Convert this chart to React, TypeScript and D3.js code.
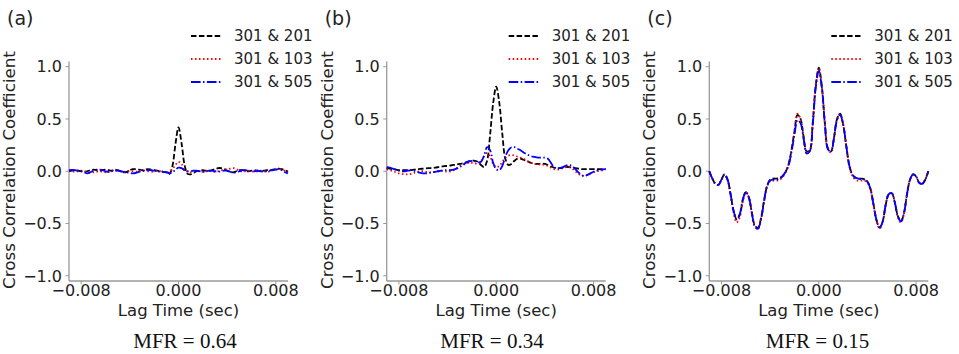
import React from "react";
import * as d3 from "d3";

// Lag grid in milliseconds
const LAGS_MS = [
  -9, -8.75, -8.5, -8.25, -8, -7.75, -7.5, -7.25, -7, -6.75, -6.5, -6.25,
  -6, -5.75, -5.5, -5.25, -5, -4.75, -4.5, -4.25, -4, -3.75, -3.5, -3.25,
  -3, -2.75, -2.5, -2.25, -2, -1.75, -1.5, -1.25, -1, -0.75, -0.5, -0.25,
  0, 0.25, 0.5, 0.75, 1, 1.25, 1.5, 1.75, 2, 2.25, 2.5, 2.75,
  3, 3.25, 3.5, 3.75, 4, 4.25, 4.5, 4.75, 5, 5.25, 5.5, 5.75,
  6, 6.25, 6.5, 6.75, 7, 7.25, 7.5, 7.75, 8, 8.25, 8.5, 8.75, 9,
];

const SERIES_NAMES = ["301 & 201", "301 & 103", "301 & 505"];
const PANEL_LABELS = ["(a)", "(b)", "(c)"];
const MFR_LABELS = ["MFR = 0.64", "MFR = 0.34", "MFR = 0.15"];
const X_TICKS = [-0.008, 0, 0.008];
const Y_TICKS = [-1, -0.5, 0, 0.5, 1];

// Panel (a)
const A_201 = [
  0.0, 0.005, 0.01, 0.005, 0.0, -0.005, 0.0, 0.01, 0.015, 0.01, 0.005, 0.01,
  0.015, 0.01, 0.005, 0.015, 0.01, 0.0, -0.01, -0.005, 0.01, 0.02, 0.02, 0.015,
  0.01, 0.015, 0.02, 0.015, 0.01, 0.005, 0.0, -0.005, -0.01, -0.025, 0.05, 0.26,
  0.42, 0.27, 0.06, -0.025, -0.03, -0.015, 0.0, 0.005, 0.01, 0.005, 0.0, 0.01,
  0.02, 0.03, 0.03, 0.02, 0.005, -0.005, -0.01, 0.0, 0.01, 0.01, 0.005, 0.0,
  0.005, 0.01, 0.005, 0.0, 0.005, 0.01, 0.01, 0.015, 0.02, 0.025, 0.02, 0.01, -0.005,
];
const A_103 = [
  0.005, 0.0, -0.005, 0.0, 0.005, 0.0, -0.01, -0.015, -0.01, -0.005, 0.0, -0.005,
  -0.01, -0.005, 0.005, 0.01, 0.005, 0.0, -0.005, 0.0, 0.005, 0.0, -0.005, 0.0,
  0.01, 0.005, 0.0, -0.005, 0.0, 0.005, 0.0, -0.005, -0.01, -0.005, 0.02, 0.06,
  0.09, 0.07, 0.02, -0.005, -0.01, 0.0, 0.005, 0.0, -0.005, 0.0, 0.005, 0.0,
  -0.005, 0.0, 0.01, 0.015, 0.02, 0.025, 0.03, 0.02, 0.005, -0.005, 0.0, 0.005,
  0.0, -0.005, 0.0, 0.005, 0.0, -0.005, 0.0, 0.01, 0.015, 0.02, 0.015, 0.005, 0.0,
];
const A_505 = [
  0.01, 0.012, 0.01, 0.005, 0.0, -0.01, -0.02, -0.01, 0.005, 0.015, 0.015, 0.01,
  0.0, -0.005, 0.0, 0.005, 0.005, 0.0, -0.005, -0.01, -0.015, -0.02, -0.015, -0.005,
  0.0, 0.005, 0.01, 0.01, 0.005, 0.0, -0.005, -0.005, -0.01, -0.02, -0.01, 0.015,
  0.035, 0.03, 0.01, 0.0, 0.0, 0.005, 0.005, 0.0, -0.005, 0.0, 0.005, 0.005,
  0.0, -0.005, 0.0, 0.005, 0.005, -0.005, -0.015, -0.01, 0.0, 0.01, 0.01, 0.005,
  0.0, 0.0, 0.005, 0.0, -0.005, 0.0, 0.005, 0.01, 0.015, 0.02, 0.01, -0.01, -0.02,
];

// Panel (b)
const B_201 = [
  0.03, 0.025, 0.02, 0.015, 0.01, 0.01, 0.01, 0.01, 0.012, 0.015, 0.02, 0.022,
  0.025, 0.028, 0.03, 0.032, 0.035, 0.04, 0.045, 0.05, 0.05, 0.055, 0.06, 0.065,
  0.07, 0.075, 0.085, 0.095, 0.1, 0.1, 0.09, 0.06, 0.04, 0.1, 0.35, 0.65,
  0.81, 0.66, 0.36, 0.12, 0.06, 0.07, 0.1, 0.12, 0.12, 0.11, 0.1, 0.085,
  0.075, 0.07, 0.07, 0.072, 0.07, 0.06, 0.045, 0.035, 0.03, 0.03, 0.035, 0.04,
  0.04, 0.035, 0.03, 0.025, 0.02, 0.02, 0.02, 0.02, 0.02, 0.02, 0.02, 0.02, 0.02,
];
const B_103 = [
  0.02, 0.01, 0.0, -0.01, -0.02, -0.025, -0.03, -0.03, -0.025, -0.015, -0.005, 0.0,
  0.0, -0.005, -0.01, -0.01, -0.005, 0.0, 0.005, 0.0, -0.005, 0.0, 0.01, 0.03,
  0.05, 0.06, 0.07, 0.08, 0.08, 0.075, 0.07, 0.09, 0.14, 0.175, 0.14, 0.07,
  0.04, 0.05, 0.09, 0.13, 0.15, 0.155, 0.15, 0.14, 0.13, 0.12, 0.1, 0.085,
  0.075, 0.07, 0.065, 0.065, 0.06, 0.05, 0.035, 0.02, 0.015, 0.02, 0.03, 0.04,
  0.04, 0.025, 0.0, -0.025, -0.04, -0.045, -0.035, -0.02, -0.01, 0.0, 0.005, 0.008, 0.01,
];
const B_505 = [
  0.04, 0.035, 0.025, 0.015, 0.005, 0.0, 0.0, 0.005, 0.01, 0.005, -0.005, -0.015,
  -0.02, -0.02, -0.015, -0.01, -0.005, 0.0, 0.005, 0.01, 0.01, 0.01, 0.015, 0.025,
  0.04, 0.06, 0.08, 0.095, 0.1, 0.095, 0.085, 0.09, 0.15, 0.23, 0.2, 0.08,
  0.02, 0.01, 0.05, 0.14, 0.2, 0.23, 0.23, 0.215, 0.2, 0.18, 0.165, 0.15,
  0.14, 0.135, 0.13, 0.13, 0.13, 0.12, 0.08, 0.04, 0.03, 0.03, 0.04, 0.055,
  0.06, 0.05, 0.02, -0.01, -0.035, -0.045, -0.035, -0.02, -0.005, 0.005, 0.012, 0.018, 0.02,
];

// Panel (c)
const C_201 = [
  0.0, -0.07, -0.12, -0.13, -0.08, -0.03, -0.08, -0.22, -0.38, -0.46, -0.42, -0.28,
  -0.2, -0.25, -0.4, -0.52, -0.54, -0.45, -0.28, -0.14, -0.08, -0.07, -0.07, -0.065,
  -0.05, -0.01, 0.06, 0.2, 0.38, 0.54, 0.5, 0.33, 0.19, 0.2, 0.46, 0.82,
  0.99, 0.81, 0.46, 0.22, 0.19, 0.32, 0.5, 0.55, 0.45, 0.25, 0.06, -0.03,
  -0.06, -0.07, -0.07, -0.075, -0.1, -0.17, -0.32, -0.47, -0.54, -0.48, -0.32, -0.22,
  -0.21, -0.3, -0.43, -0.48, -0.4, -0.22, -0.08, -0.03, -0.05, -0.11, -0.12, -0.08, 0.0,
];
const C_103 = [
  0.0, -0.07, -0.12, -0.13, -0.08, -0.03, -0.08, -0.23, -0.4, -0.49, -0.44, -0.29,
  -0.2, -0.25, -0.4, -0.52, -0.55, -0.46, -0.29, -0.15, -0.09, -0.09, -0.09, -0.085,
  -0.06, -0.015, 0.06, 0.2, 0.38, 0.55, 0.5, 0.33, 0.18, 0.19, 0.46, 0.82,
  0.98, 0.81, 0.46, 0.21, 0.18, 0.32, 0.5, 0.55, 0.45, 0.25, 0.05, -0.04,
  -0.08, -0.09, -0.09, -0.09, -0.11, -0.18, -0.33, -0.48, -0.55, -0.49, -0.32, -0.22,
  -0.21, -0.3, -0.44, -0.49, -0.41, -0.22, -0.08, -0.03, -0.05, -0.11, -0.12, -0.08, 0.0,
];
const C_505 = [
  0.0, -0.07, -0.12, -0.13, -0.08, -0.03, -0.08, -0.22, -0.38, -0.46, -0.41, -0.27,
  -0.2, -0.25, -0.4, -0.53, -0.55, -0.46, -0.29, -0.14, -0.09, -0.08, -0.08, -0.075,
  -0.05, -0.01, 0.05, 0.18, 0.35, 0.49, 0.46, 0.31, 0.17, 0.19, 0.44, 0.8,
  0.96, 0.8, 0.45, 0.21, 0.19, 0.32, 0.49, 0.54, 0.45, 0.25, 0.06, -0.03,
  -0.06, -0.07, -0.075, -0.08, -0.1, -0.17, -0.32, -0.47, -0.54, -0.48, -0.32, -0.22,
  -0.21, -0.3, -0.43, -0.48, -0.4, -0.22, -0.08, -0.03, -0.05, -0.11, -0.12, -0.08, 0.0,
];

const PANEL_DATA = [
  [A_201, A_103, A_505],
  [B_201, B_103, B_505],
  [C_201, C_103, C_505],
];

const PANEL_LEFT = [69, 386.7, 709.3];
const MFR_X = [185, 492, 817.5];
const PLOT_W = 219;
const TOP = 61.5;
const BOTTOM = 281;

const STYLES = [
  { color: "#000000", dash: "5.5,2.4" },
  { color: "#ff0000", dash: "1.5,2.5" },
  { color: "#0000ff", dash: "9.6,2.4,1.5,2.4" },
];

const SANS = "'DejaVu Sans', 'Liberation Sans', sans-serif";
const SERIF = "'Liberation Serif', 'Times New Roman', serif";
const TXT = "#222222";
const SPINE = "#9a9a9a";
const LW = 1.8;

const fmtX = (v: number) => (v < 0 ? "\u2212" : "") + Math.abs(v).toFixed(3);
const fmtY = (v: number) => (v < 0 ? "\u2212" : "") + Math.abs(v).toFixed(1);

function Panel({ idx }: { idx: number }) {
  const left = PANEL_LEFT[idx];
  const x = d3.scaleLinear().domain([-0.009, 0.009]).range([left, left + PLOT_W]);
  const y = d3.scaleLinear().domain([-1.05, 1.05]).range([BOTTOM, TOP]);
  const line = d3
    .line<number>()
    .x((_, i) => x(LAGS_MS[i] / 1000))
    .y((d) => y(d))
    .curve(d3.curveCatmullRom.alpha(0.5));
  const series = PANEL_DATA[idx];
  return (
    <g>
      <text x={left - 62} y={24.5} fontFamily={SANS} fontSize={19} fill={TXT}>
        {PANEL_LABELS[idx]}
      </text>
      {/* spines */}
      <line x1={left} x2={left} y1={TOP} y2={BOTTOM} stroke={SPINE} strokeWidth={1.3} />
      <line x1={left} x2={left + PLOT_W} y1={BOTTOM} y2={BOTTOM} stroke={SPINE} strokeWidth={1.3} />
      {Y_TICKS.map((t) => (
        <g key={"y" + t}>
          <line x1={left - 3.5} x2={left} y1={y(t)} y2={y(t)} stroke={SPINE} strokeWidth={1} />
          <text
            x={left - 7}
            y={y(t)}
            dy="0.36em"
            textAnchor="end"
            fontFamily={SANS}
            fontSize={16}
            fill={TXT}
          >
            {fmtY(t)}
          </text>
        </g>
      ))}
      {X_TICKS.map((t) => (
        <g key={"x" + t}>
          <line x1={x(t)} x2={x(t)} y1={BOTTOM} y2={BOTTOM + 3.5} stroke={SPINE} strokeWidth={1} />
          <text x={x(t)} y={296} textAnchor="middle" fontFamily={SANS} fontSize={16} fill={TXT}>
            {fmtX(t)}
          </text>
        </g>
      ))}
      <text x={x(0)} y={315.5} textAnchor="middle" fontFamily={SANS} fontSize={16.5} fill={TXT}>
        Lag Time (sec)
      </text>
      <text
        transform={`translate(${left - 54},170) rotate(-90)`}
        textAnchor="middle"
        fontFamily={SANS}
        fontSize={16.7}
        fill={TXT}
      >
        Cross Correlation Coefficient
      </text>
      {series.map((s, si) => (
        <path
          key={"s" + si}
          d={line(s) || ""}
          fill="none"
          stroke={STYLES[si].color}
          strokeWidth={LW}
          strokeDasharray={STYLES[si].dash}
        />
      ))}
      {SERIES_NAMES.map((name, si) => {
        const ry = 36 + si * 23;
        return (
          <g key={"l" + si}>
            <line
              x1={left + 122}
              x2={left + 152}
              y1={ry}
              y2={ry}
              stroke={STYLES[si].color}
              strokeWidth={LW}
              strokeDasharray={STYLES[si].dash}
            />
            <text x={left + 165} y={ry} dy="0.36em" fontFamily={SANS} fontSize={15} fill={TXT}>
              {name}
            </text>
          </g>
        );
      })}
      <text x={MFR_X[idx]} y={348} textAnchor="middle" fontFamily={SERIF} fontSize={21} fill="#111">
        {MFR_LABELS[idx]}
      </text>
    </g>
  );
}

export default function App() {
  return (
    <svg
      width={959}
      height={354}
      viewBox="0 0 959 354"
      style={{ position: "absolute", left: 0, top: 0, background: "#fff" }}
    >
      <rect width={959} height={354} fill="#fff" />
      {[0, 1, 2].map((i) => (
        <Panel key={i} idx={i} />
      ))}
    </svg>
  );
}
